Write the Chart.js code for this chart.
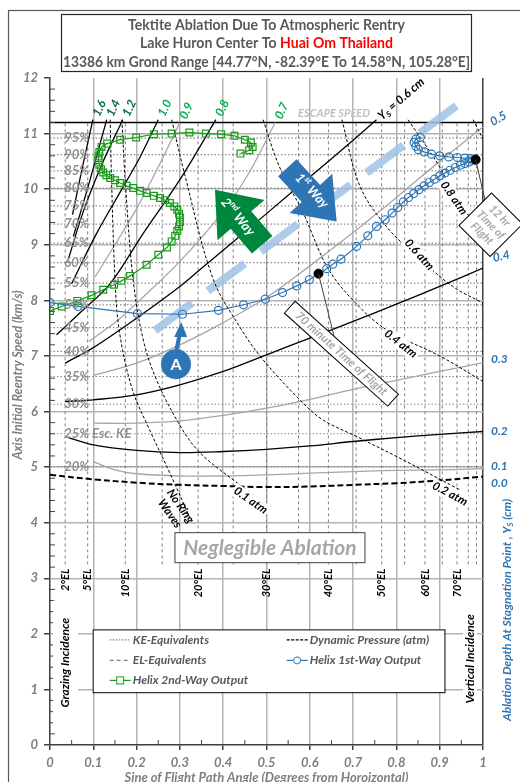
<!DOCTYPE html>
<html><head><meta charset="utf-8">
<script src="https://cdn.jsdelivr.net/npm/chart.js@4.4.1/dist/chart.umd.min.js"></script>
<style>html,body{margin:0;padding:0;background:#fff}canvas{display:block}</style>
</head><body>
<canvas id="c" width="520" height="782"></canvas>
<script>
// ---------------- DATA ----------------
const titleLine1 = 'Tektite Ablation Due To Atmospheric Rentry';
const titleLine2a = 'Lake Huron Center To ';
const titleLine2b = 'Huai Om Thailand';
const titleLine3 = '13386 km Grond Range [44.77°N, -82.39°E To 14.58°N, 105.28°E]';
const xAxisTitle = 'Sine of Flight Path Angle (Degrees from Horoizontal)';
const yAxisTitle = 'Axis Initial Reentry Speed (km/s)';

const escapeSpeed = 11.2;
const keLabels = ['95%','90%','85%','80%','75%','70%','65%','60%','55%','50%','45%','40%','35%','30%','25% Esc. KE','20%'];
const keSpeeds = [10.92,10.62,10.33,10.02,9.70,9.37,9.03,8.68,8.31,7.92,7.51,7.08,6.63,6.13,5.60,5.01];
const elSines = [0.035,0.087,0.174,0.259,0.342,0.423,0.5,0.574,0.643,0.707,0.766,0.819,0.866,0.906,0.94,0.966,0.985];
const elLabelSines = [0.035,0.087,0.174,0.342,0.5,0.643,0.766,0.866,0.94];
const elLabels = ['2°EL','5°EL','10°EL','20°EL','30°EL','40°EL','50°EL','60°EL','70°EL'];
const elBottom = 3.25;

// Ablation-depth (Ys, cm) contour curves
const ys00x = [0,0.1,0.2,0.3,0.4,0.5,0.6,0.7,0.8,0.9,1];
const ys00y = [4.86,4.78,4.72,4.68,4.66,4.64,4.65,4.68,4.71,4.76,4.83];
const ys01x = [0.1,0.15,0.2,0.3,0.4,0.5,0.6,0.7,0.8,0.9,1];
const ys01y = [5.1,4.95,4.88,4.84,4.84,4.86,4.89,4.92,4.94,4.95,4.97];
const ys02x = [0.035,0.1,0.2,0.3,0.4,0.5,0.6,0.7,0.8,0.9,1];
const ys02y = [5.55,5.4,5.3,5.26,5.28,5.32,5.38,5.46,5.53,5.59,5.64];
const ys03x = [0.1,0.2,0.3,0.4,0.5,0.6,0.7,0.8,0.9,1];
const ys03y = [5.79,5.79,5.83,5.93,6.06,6.22,6.4,6.56,6.72,6.88];
const ys04x = [0.035,0.1,0.2,0.3,0.4,0.5,0.6,0.7,0.8,0.9,1];
const ys04y = [6.18,6.21,6.3,6.48,6.72,7.02,7.32,7.62,7.93,8.25,8.58];
const ys05x = [0.1,0.2,0.3,0.4,0.5,0.6,0.7,0.8,0.9,1];
const ys05y = [6.65,6.87,7.2,7.6,8.05,8.62,9.22,9.85,10.5,11.12];
const ys06x = [0.035,0.1,0.2,0.3,0.346,0.4,0.5,0.6,0.7,0.754];
const ys06y = [6.87,7.15,7.68,8.25,8.55,8.9,9.56,10.22,10.88,11.25];
const ys07x = [0.09,0.15,0.2,0.3,0.4,0.46,0.52];
const ys07y = [7.26,7.6,7.95,8.7,9.6,10.3,11.2];
const ys08x = [0.015,0.07,0.139,0.215,0.3,0.383];
const ys08y = [7.38,7.78,8.3,9.2,10.17,11.25];
const ys09x = [0.104,0.15,0.2,0.25,0.3];
const ys09y = [8.42,9.0,9.65,10.4,11.2];
const ys10x = [0.05,0.108,0.169,0.208,0.25];
const ys10y = [8.3,9.21,10.04,10.58,11.25];
const ys12x = [0.042,0.077,0.12,0.168];
const ys12y = [8.73,9.6,10.45,11.25];
const ys14x = [0.054,0.09,0.131];
const ys14y = [9.15,10.1,11.25];
const ys16x = [0.052,0.075,0.099];
const ys16y = [9.54,10.4,11.25];
const ysRightLabels = ['0.0','0.1','0.2','0.3','0.4','0.5'];
const ysTopLabels = ['0.7','0.8','0.9','1.0','1.2','1.4','1.6'];

// Dynamic pressure curves (atm)
const pNoRingX = [0.139,0.142,0.15,0.16,0.19,0.23,0.277,0.327];
const pNoRingY = [11.25,10.2,8.4,7.45,6.4,5.67,4.89,4.02];
const p01X = [0.166,0.175,0.192,0.215,0.246,0.3,0.346,0.423,0.485];
const p01Y = [11.25,10.0,8.37,7.3,6.57,5.75,5.26,4.77,4.41];
const p02X = [0.281,0.31,0.376,0.44,0.49,0.577,0.63,0.708,0.808,0.947];
const p02Y = [11.25,10.3,8.4,7.5,6.95,6.21,5.85,5.55,5.16,4.59];
const p04X = [0.492,0.53,0.585,0.64,0.7,0.777,0.9,1.0];
const p04Y = [11.25,10.4,9.57,8.6,8.0,7.47,7.0,6.54];
const p06X = [0.674,0.716,0.78,0.854,0.93,1.0];
const p06Y = [11.25,10.05,9.3,8.75,8.25,7.95];
const p08X = [0.827,0.9,0.947,1.0];
const p08Y = [11.25,10.4,9.69,9.33];
const p10X = [0.977,1.0];
const p10Y = [11.25,10.9];
const pressureLabels = ['No Ring\nWaves','0.1 atm','0.2 atm','0.4 atm','0.6 atm','0.8 atm'];

// Helix outputs
const helix1X = [0,0.065,0.202,0.306,0.389,0.447,0.497,0.537,0.57,0.599,0.639,0.653,0.672,0.708,0.734,0.754,0.774,0.79,0.803,0.816,0.828,0.84,0.852,0.864,0.876,0.888,0.9,0.912,0.924,0.936,0.948,0.958,0.968,0.976,0.983,0.972,0.958,0.941,0.921,0.9,0.881,0.864,0.851,0.845,0.841,0.845,0.855];
const helix1Y = [7.96,7.89,7.76,7.75,7.82,7.92,8.02,8.14,8.26,8.37,8.57,8.65,8.74,8.97,9.16,9.33,9.45,9.57,9.67,9.77,9.85,9.92,9.99,10.06,10.12,10.18,10.24,10.29,10.34,10.39,10.43,10.46,10.49,10.52,10.54,10.55,10.56,10.57,10.58,10.6,10.63,10.67,10.71,10.77,10.84,10.9,10.93];
const helix2X = [0,0.027,0.063,0.096,0.123,0.148,0.165,0.185,0.223,0.25,0.27,0.281,0.289,0.294,0.298,0.3,0.3,0.298,0.294,0.287,0.277,0.266,0.254,0.24,0.223,0.208,0.192,0.177,0.162,0.15,0.139,0.13,0.123,0.118,0.114,0.112,0.112,0.114,0.119,0.132,0.162,0.199,0.24,0.281,0.322,0.36,0.395,0.426,0.45,0.464,0.468,0.46,0.44];
const helix2Y = [7.81,7.89,7.99,8.09,8.19,8.28,8.35,8.44,8.64,8.82,8.95,9.06,9.16,9.25,9.33,9.41,9.49,9.56,9.63,9.69,9.75,9.8,9.84,9.88,9.93,9.97,10.02,10.06,10.11,10.16,10.2,10.25,10.3,10.36,10.44,10.52,10.59,10.67,10.76,10.82,10.89,10.93,10.99,11.0,11.02,11.0,10.99,10.96,10.89,10.84,10.76,10.7,10.64];
const flightTimeX = [0.62,0.983];
const flightTimeY = [8.48,10.53];
const flightTimeLabels = ['70 minute Time of Flight', '12 hr|Time of|Flight'];

const legendLabels = ['KE-Equivalents','Dynamic Pressure (atm)','EL-Equivalents','Helix 1st-Way Output','Helix 2nd-Way Output'];

// ---------------- STYLE / BUILD ----------------
const FAM = 'Lato, "Open Sans", "DejaVu Sans", sans-serif';
const fnt = (s, b = true, i = true) => `${i ? 'italic ' : ''}${b ? 'bold ' : ''}${s}px ${FAM}`;
const BLUE = '#2e75b6', GREEN = '#1a9a1a', GRAY = '#a6a6a6', TXT = '#7f7f7f';
const pts = (xs, ys) => xs.map((x, i) => ({ x, y: ys[i] }));

const contourDefs = [
  { x: ys00x, y: ys00y, c: '#000', w: 2, d: [6, 3] },
  { x: ys01x, y: ys01y, c: GRAY, w: 1.3 },
  { x: ys02x, y: ys02y, c: '#000', w: 1.3 },
  { x: ys03x, y: ys03y, c: GRAY, w: 1.3 },
  { x: ys04x, y: ys04y, c: '#000', w: 1.3 },
  { x: ys05x, y: ys05y, c: GRAY, w: 1.3 },
  { x: ys06x, y: ys06y, c: '#000', w: 1.3 },
  { x: ys07x, y: ys07y, c: GRAY, w: 1.3 },
  { x: ys08x, y: ys08y, c: '#000', w: 1.3 },
  { x: ys09x, y: ys09y, c: GRAY, w: 1.3 },
  { x: ys10x, y: ys10y, c: '#000', w: 1.3 },
  { x: ys12x, y: ys12y, c: '#000', w: 1.3 },
  { x: ys14x, y: ys14y, c: '#000', w: 1.3 },
  { x: ys16x, y: ys16y, c: '#000', w: 1.3 }
];
const pressureDefs = [
  [pNoRingX, pNoRingY], [p01X, p01Y], [p02X, p02Y], [p04X, p04Y], [p06X, p06Y], [p08X, p08Y], [p10X, p10Y]
];

const datasets = [];
datasets.push({ label: 'flight time', data: pts(flightTimeX, flightTimeY), showLine: false, pointRadius: 4.5, pointBackgroundColor: '#000', pointBorderColor: '#000' });
datasets.push({ label: legendLabels[3], data: pts(helix1X, helix1Y), showLine: true, borderColor: BLUE, borderWidth: 1.2, pointRadius: 4, pointBorderWidth: 1.2, pointBorderColor: BLUE, pointBackgroundColor: 'rgba(255,255,255,0)', pointStyle: 'circle', tension: 0 });
datasets.push({ label: legendLabels[4], data: pts(helix2X, helix2Y), showLine: true, borderColor: GREEN, borderWidth: 1.2, pointRadius: 4.8, pointBorderWidth: 1.2, pointBorderColor: GREEN, pointBackgroundColor: 'rgba(255,255,255,0)', pointStyle: 'rect', tension: 0 });
pressureDefs.forEach(p => datasets.push({ label: 'p', data: pts(p[0], p[1]), showLine: true, pointRadius: 0, borderColor: '#000', borderWidth: 1, borderDash: [3, 2], tension: 0.35 }));
contourDefs.forEach(c => datasets.push({ label: 'ys', data: pts(c.x, c.y), showLine: true, pointRadius: 0, borderColor: c.c, borderWidth: c.w, borderDash: c.d || [], tension: 0.35 }));

function rtext(ctx, str, x, y, ang, font, color, align = 'center', bg = null) {
  ctx.save(); ctx.translate(x, y); ctx.rotate(ang * Math.PI / 180);
  ctx.font = font; ctx.textAlign = align; ctx.textBaseline = 'middle';
  if (bg) {
    const w = ctx.measureText(str).width; const h = parseFloat(font.match(/(\d+(\.\d+)?)px/)[1]);
    let x0 = align === 'center' ? -w / 2 : align === 'right' ? -w : 0;
    ctx.fillStyle = bg; ctx.fillRect(x0 - 2, -h / 2 - 1, w + 4, h + 2);
  }
  ctx.fillStyle = color; ctx.fillText(str, 0, 0); ctx.restore();
}
function partsText(ctx, parts, x, y, ang, size, color, align = 'center') {
  ctx.save(); ctx.translate(x, y); ctx.rotate(ang * Math.PI / 180); ctx.textBaseline = 'middle'; ctx.textAlign = 'left';
  const f = p => fnt(p.k ? size * 0.65 : size);
  let tot = 0; parts.forEach(p => { ctx.font = f(p); tot += ctx.measureText(p.t).width; });
  let cx = align === 'center' ? -tot / 2 : align === 'right' ? -tot : 0;
  ctx.fillStyle = color;
  parts.forEach(p => { ctx.font = f(p); const dy = p.k === 'sup' ? -size * 0.35 : p.k === 'sub' ? size * 0.3 : 0; ctx.fillText(p.t, cx, dy); cx += ctx.measureText(p.t).width; });
  ctx.restore();
}
function blockArrow(ctx, tail, tip, bw, hw, hl, color) {
  const dx = tip[0] - tail[0], dy = tip[1] - tail[1], L = Math.hypot(dx, dy);
  const ux = dx / L, uy = dy / L, nx = -uy, ny = ux;
  const bx = tip[0] - ux * hl, by = tip[1] - uy * hl;
  ctx.beginPath();
  ctx.moveTo(tail[0] + nx * bw / 2, tail[1] + ny * bw / 2);
  ctx.lineTo(bx + nx * bw / 2, by + ny * bw / 2);
  ctx.lineTo(bx + nx * hw / 2, by + ny * hw / 2);
  ctx.lineTo(tip[0], tip[1]);
  ctx.lineTo(bx - nx * hw / 2, by - ny * hw / 2);
  ctx.lineTo(bx - nx * bw / 2, by - ny * bw / 2);
  ctx.lineTo(tail[0] - nx * bw / 2, tail[1] - ny * bw / 2);
  ctx.closePath(); ctx.fillStyle = color; ctx.fill();
}
function rotBox(ctx, cx, cy, w, h, ang, lines, font, color, lh) {
  ctx.save(); ctx.translate(cx, cy); ctx.rotate(ang * Math.PI / 180);
  ctx.fillStyle = '#fff'; ctx.fillRect(-w / 2, -h / 2, w, h);
  ctx.strokeStyle = '#000'; ctx.lineWidth = 1; ctx.strokeRect(-w / 2, -h / 2, w, h);
  ctx.font = font; ctx.fillStyle = color; ctx.textAlign = 'center'; ctx.textBaseline = 'middle';
  lines.forEach((l, i) => ctx.fillText(l, 0, (i - (lines.length - 1) / 2) * lh));
  ctx.restore();
}

const refPlugin = {
  id: 'ref',
  beforeDatasetsDraw(chart) {
    const { ctx, scales: { x: sx, y: sy } } = chart;
    const X = v => sx.getPixelForValue(v), Y = v => sy.getPixelForValue(v);
    ctx.save();
    ctx.strokeStyle = '#8a8a8a'; ctx.lineWidth = 1.2; ctx.setLineDash([1.5, 2]);
    keSpeeds.forEach(v => { ctx.beginPath(); ctx.moveTo(X(0), Y(v)); ctx.lineTo(X(1), Y(v)); ctx.stroke(); });
    ctx.strokeStyle = '#808080'; ctx.lineWidth = 1; ctx.setLineDash([3, 3]);
    elSines.forEach(s => { ctx.beginPath(); ctx.moveTo(X(s), Y(elBottom)); ctx.lineTo(X(s), Y(escapeSpeed)); ctx.stroke(); });
    ctx.setLineDash([]);
    ctx.strokeStyle = '#000'; ctx.lineWidth = 1.6;
    ctx.beginPath(); ctx.moveTo(X(0), Y(escapeSpeed)); ctx.lineTo(X(1), Y(escapeSpeed)); ctx.stroke();
    ctx.strokeStyle = '#404040'; ctx.lineWidth = 1;
    for (let k = 1; k < 60; k++) { if (k % 5 === 0) continue; const v = k * 0.2; ctx.beginPath(); ctx.moveTo(X(0), Y(v)); ctx.lineTo(X(0) + 5, Y(v)); ctx.stroke(); }
    for (let k = 1; k < 20; k += 2) { const v = k * 0.05; ctx.beginPath(); ctx.moveTo(X(v), Y(0)); ctx.lineTo(X(v), Y(0) - 5); ctx.stroke(); }
    ctx.strokeStyle = 'rgba(160,194,229,0.85)'; ctx.lineWidth = 8; ctx.setLineDash([46, 20]);
    ctx.beginPath(); ctx.moveTo(X(0.2425), Y(7.457)); ctx.lineTo(X(0.947), Y(11.55)); ctx.stroke();
    ctx.setLineDash([]);
    ctx.restore();
  },
  afterDatasetsDraw(chart) {
    const { ctx, chartArea: ca, scales: { x: sx, y: sy } } = chart;
    const X = v => sx.getPixelForValue(v), Y = v => sy.getPixelForValue(v);
    ctx.save();
    keLabels.forEach((l, i) => rtext(ctx, l, X(0.033), Y(keSpeeds[i]), 0, fnt(13), '#8f8f8f', 'left'));
    elLabels.forEach((l, i) => rtext(ctx, l, X(elLabelSines[i]), Y(3.17), -90, fnt(11), '#000', 'right'));
    const last = d => d.data[d.data.length - 1];
    const cds = chart.data.datasets.filter(d => d.label === 'ys');
    const rightOff = [[8, 7], [8, -3], [8, 0], [8, -3], [10, -10], [8, -4]];
    const rightAng = [0, 0, 0, 0, -12, -30];
    ysRightLabels.forEach((l, i) => { const p = last(cds[i]); rtext(ctx, l, X(p.x) + rightOff[i][0], Y(p.y) + rightOff[i][1], rightAng[i], fnt(12), BLUE, 'left'); });
    const topIdx = [7, 8, 9, 10, 11, 12, 13];
    ysTopLabels.forEach((l, i) => { const p = last(cds[topIdx[i]]); const dark = i >= 4; rtext(ctx, l, X(p.x) + 3, Y(p.y) - 4, -65, fnt(12), dark ? '#00703a' : '#00b050', 'left'); });
    { const p = last(cds[6]); partsText(ctx, [{ t: 'Y' }, { t: 'S', k: 'sub' }, { t: ' = 0.6 cm' }], X(p.x) + 3, Y(p.y) - 2, -41, 12, '#000', 'left'); }
    rtext(ctx, 'ESCAPE SPEED', X(0.656), Y(11.37), 0, fnt(11), '#bfbfbf', 'center');
    const pl = [[0.289, 4.23, 55], [0.4635, 4.4, 35], [0.924, 4.52, 28], [0.81, 7.22, 38], [0.853, 8.82, 48], [0.933, 9.84, 55]];
    pressureLabels.forEach((l, i) => {
      const ls = l.split('\n');
      ls.forEach((s, j) => { const off = (j - (ls.length - 1) / 2) * 13; const a = pl[i][2] * Math.PI / 180; rtext(ctx, s, X(pl[i][0]) - Math.sin(a) * off, Y(pl[i][1]) + Math.cos(a) * off, pl[i][2], fnt(11.5), '#000', 'center', ls.length === 1 ? '#fff' : null); });
    });
    blockArrow(ctx, [X(0.548), Y(10.385)], [X(0.662), Y(9.42)], 25, 58, 38, BLUE);
    blockArrow(ctx, [X(0.49), Y(9.0)], [X(0.381), Y(9.99)], 27, 62, 40, '#00873e');
    partsText(ctx, [{ t: '1' }, { t: 'st', k: 'sup' }, { t: ' Way' }], X(0.605), Y(9.97), 47, 13, '#fff');
    partsText(ctx, [{ t: '2' }, { t: 'nd', k: 'sup' }, { t: ' Way' }], X(0.434), Y(9.5), 50, 13, '#fff');
    { const cx = X(0.291), cy = Y(6.85); const tx = X(0.303), ty = Y(7.61);
      ctx.strokeStyle = BLUE; ctx.lineWidth = 4; ctx.beginPath(); ctx.moveTo(cx, cy - 12); ctx.lineTo(tx - 1.5, ty + 12); ctx.stroke();
      ctx.fillStyle = BLUE; ctx.beginPath(); ctx.moveTo(tx, ty); ctx.lineTo(tx - 7, ty + 15); ctx.lineTo(tx + 6, ty + 15); ctx.closePath(); ctx.fill();
      ctx.beginPath(); ctx.arc(cx, cy, 15, 0, Math.PI * 2); ctx.fill();
      rtext(ctx, 'A', cx, cy + 1, 0, fnt(16, true, false), '#fff'); }
    ctx.strokeStyle = '#404040'; ctx.lineWidth = 1;
    const b70 = [X(0.673), Y(7.04)], b12 = [X(1.018), Y(9.36)];
    ctx.beginPath(); ctx.moveTo(X(flightTimeX[0]), Y(flightTimeY[0])); ctx.lineTo(b70[0] - 6, b70[1] - 12); ctx.stroke();
    ctx.beginPath(); ctx.moveTo(X(flightTimeX[1]), Y(flightTimeY[1])); ctx.lineTo(b12[0], b12[1]); ctx.stroke();
    rotBox(ctx, b70[0], b70[1], 139, 16, 42, [flightTimeLabels[0]], fnt(11.5), GRAY, 12);
    rotBox(ctx, b12[0], b12[1], 44, 46, 45, flightTimeLabels[1].split('|'), fnt(11), GRAY, 12.5);
    { const cx = X(0.508), cy = Y(3.55); ctx.fillStyle = '#fff'; ctx.fillRect(cx - 95, cy - 15, 190, 30); ctx.strokeStyle = '#404040'; ctx.strokeRect(cx - 95, cy - 15, 190, 30);
      ctx.font = fnt(21); ctx.fillStyle = GRAY; ctx.textAlign = 'center'; ctx.textBaseline = 'middle'; ctx.fillText('Neglegible Ablation', cx, cy + 1, 178); }
    { ctx.fillStyle = '#fff'; ctx.fillRect(X(0) + 3, Y(2.6), 25, Y(0.3) - Y(2.6));
      rtext(ctx, 'Grazing Incidence', X(0.035), Y(1.48), -90, fnt(12), '#000');
      rtext(ctx, 'Vertical Incidence', X(0.97), Y(1.55), -90, fnt(12), '#000', 'center', '#fff'); }
    { const x0 = X(0.0986), y0 = Y(2.08), x1 = X(0.911), y1 = Y(0.95);
      ctx.fillStyle = '#fff'; ctx.fillRect(x0, y0, x1 - x0, y1 - y0); ctx.strokeStyle = '#000'; ctx.lineWidth = 1; ctx.strokeRect(x0 + 0.5, y0 + 0.5, x1 - x0, y1 - y0);
      const rows = [y0 + 10.5, y0 + 31, y0 + 51]; const c1 = x0 + 17, c2 = x0 + 194;
      const seg = (x, y, col, dash, w) => { ctx.save(); ctx.strokeStyle = col; ctx.lineWidth = w; ctx.setLineDash(dash); ctx.beginPath(); ctx.moveTo(x, y); ctx.lineTo(x + 21, y); ctx.stroke(); ctx.restore(); };
      seg(c1, rows[0], '#808080', [1.5, 1.5], 1.2); seg(c2, rows[0], '#000', [3, 1.5], 1.3);
      seg(c1, rows[1], '#808080', [4, 3], 1.2); seg(c2, rows[1], BLUE, [], 1.2); seg(c1, rows[2], GREEN, [], 1.2);
      ctx.strokeStyle = BLUE; ctx.fillStyle = '#fff'; ctx.beginPath(); ctx.arc(c2 + 10.5, rows[1], 3.5, 0, 7); ctx.fill(); ctx.stroke();
      ctx.strokeStyle = GREEN; ctx.fillRect(c1 + 7, rows[2] - 3.5, 7, 7); ctx.strokeRect(c1 + 7, rows[2] - 3.5, 7, 7);
      const lt = (s, x, y) => rtext(ctx, s, x + 23, y, 0, fnt(12), '#595959', 'left');
      lt(legendLabels[0], c1, rows[0]); lt(legendLabels[1], c2, rows[0]); lt(legendLabels[2], c1, rows[1]); lt(legendLabels[3], c2, rows[1]); lt(legendLabels[4], c1, rows[2]); }
    rtext(ctx, yAxisTitle, 18, 375, -90, fnt(12.5), TXT);
    partsText(ctx, [{ t: 'Ablation Depth At Stagnation Point , Y' }, { t: 'S', k: 'sub' }, { t: ' (cm)' }], 507, 610, -90, 12, BLUE);
    rtext(ctx, xAxisTitle, (ca.left + ca.right) / 2, 778, 0, fnt(13), TXT);
    ctx.strokeStyle = '#595959'; ctx.lineWidth = 1.2; ctx.strokeRect(8.5, 10.5, 700, 900);
    ctx.fillStyle = '#fff'; ctx.fillRect(61, 14, 411, 58); ctx.strokeStyle = '#262626'; ctx.lineWidth = 1.2; ctx.strokeRect(61.5, 14.5, 410, 57);
    ctx.textBaseline = 'middle'; ctx.textAlign = 'left'; ctx.font = fnt(15, true, false); ctx.fillStyle = '#595959';
    { const w = ctx.measureText(titleLine1).width; const s = Math.min(1, 277 / w); ctx.fillText(titleLine1, 266.5 - w * s / 2, 25, w * s); }
    { const wa = ctx.measureText(titleLine2a).width, wb = ctx.measureText(titleLine2b).width; const s = Math.min(1, 253 / (wa + wb)); const x0 = 266.5 - (wa + wb) * s / 2;
      ctx.fillText(titleLine2a, x0, 43.5, wa * s); ctx.fillStyle = '#ff0000'; ctx.fillText(titleLine2b, x0 + wa * s, 43.5, wb * s); ctx.fillStyle = '#595959'; }
    { const w = ctx.measureText(titleLine3).width; const s = Math.min(1, 407 / w); ctx.fillText(titleLine3, 266.5 - w * s / 2, 62, w * s); }
    ctx.restore();
  }
};

const tickFont = { family: FAM, size: 13, style: 'italic', weight: 'bold' };
new Chart(document.getElementById('c'), {
  type: 'scatter',
  data: { datasets },
  options: {
    responsive: false, animation: false, devicePixelRatio: 1,
    layout: { padding: { left: 8, right: 37, top: 78, bottom: 7 } },
    plugins: { legend: { display: false }, tooltip: { enabled: false } },
    elements: { line: { fill: false } },
    scales: {
      x: {
        type: 'linear', min: 0, max: 1,
        ticks: { stepSize: 0.1, color: TXT, font: tickFont, padding: 5, maxRotation: 0, autoSkip: false,
          callback: v => Math.abs(v) < 1e-9 ? '0' : Math.abs(v - 1) < 1e-9 ? '1' : v.toFixed(1) },
        grid: { color: c => (c.tick && Math.abs(c.tick.value - 1) < 1e-9) ? '#404040' : (c.tick && c.tick.value === 0 ? 'rgba(0,0,0,0)' : '#b3b3b3'), lineWidth: 1.5, tickLength: 5, tickColor: '#404040' },
        border: { color: '#404040', width: 1.5 },
        afterFit: s => { s.height = 30; }
      },
      y: {
        type: 'linear', min: 0, max: 12,
        ticks: { stepSize: 1, color: TXT, font: tickFont, padding: 6 },
        grid: { color: c => (c.tick && (c.tick.value === 12 || c.tick.value === 0)) ? 'rgba(0,0,0,0)' : '#b3b3b3', lineWidth: 1.5, tickLength: 6, tickColor: '#404040' },
        border: { color: '#404040', width: 1.5 },
        afterFit: s => { s.width = 42; }
      }
    }
  },
  plugins: [refPlugin]
});
</script>
</body></html>
